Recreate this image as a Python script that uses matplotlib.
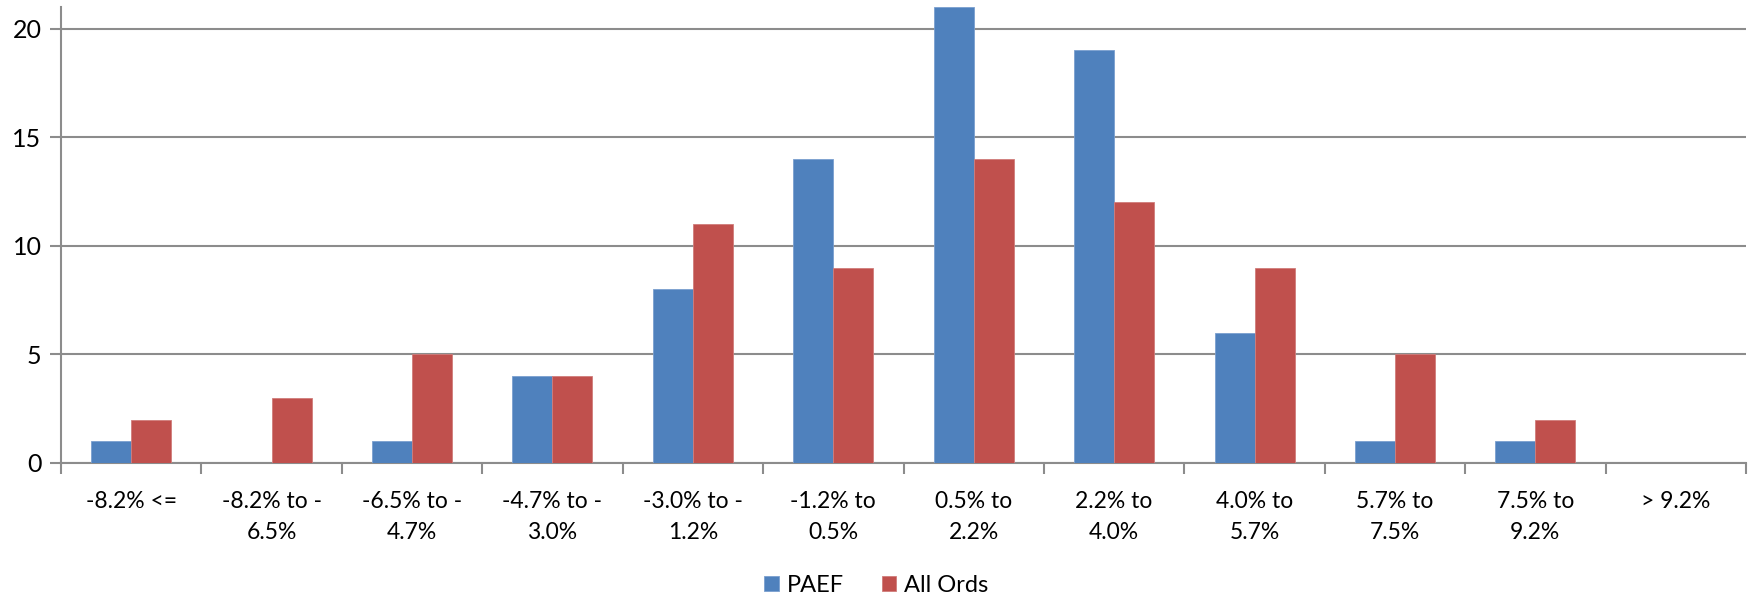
import numpy as np
import matplotlib.pyplot as plt

plt.rcParams['font.family'] = ['Lato', 'DejaVu Sans']

categories = ['-8.2% <=', '-8.2% to -\n6.5%', '-6.5% to -\n4.7%', '-4.7% to -\n3.0%',
              '-3.0% to -\n1.2%', '-1.2% to\n0.5%', '0.5% to\n2.2%', '2.2% to\n4.0%',
              '4.0% to\n5.7%', '5.7% to\n7.5%', '7.5% to\n9.2%', '> 9.2%']
paef = [1, 0, 1, 4, 8, 14, 21, 19, 6, 1, 1, 0]
all_ords = [2, 3, 5, 4, 11, 9, 14, 12, 9, 5, 2, 0]

grey = '#8c8c8c'
fig = plt.figure(figsize=(17.53, 6.02), dpi=100)
ax = fig.add_axes([61 / 1753, 1 - 463 / 602, 1685 / 1753, 456 / 602])

x = np.arange(len(categories))
w = 0.285
ax.bar(x - w / 2, paef, w, color='#4F81BD', label='PAEF', zorder=3,
       edgecolor='#7a9fcf', linewidth=0.6)
ax.bar(x + w / 2, all_ords, w, color='#C0504D', label='All Ords', zorder=3,
       edgecolor='#d07d7b', linewidth=0.6)

ax.set_xlim(-0.5, len(categories) - 0.5)
ax.set_ylim(0, 21)
ax.set_yticks([0, 5, 10, 15, 20])
ax.yaxis.grid(True, color=grey, linewidth=1.5, zorder=0)

ax.set_xticks(x)
ax.set_xticklabels(categories, fontsize=16.5, linespacing=1.6)
ax.set_xticks(np.arange(len(categories) + 1) - 0.5, minor=True)
ax.tick_params(axis='x', which='major', length=0, pad=20)
ax.tick_params(axis='x', which='minor', length=8, width=1.5, color=grey)
ax.tick_params(axis='y', length=8, width=1.5, color=grey, labelsize=18, pad=6)

for side in ['top', 'right']:
    ax.spines[side].set_visible(False)
for side in ['left', 'bottom']:
    ax.spines[side].set_color(grey)
    ax.spines[side].set_linewidth(1.5)

fig.legend(loc='center', bbox_to_anchor=(0.5, 1 - 585 / 602), ncol=2, frameon=False,
           fontsize=17, handlelength=0.6, handleheight=0.6, handletextpad=0.35,
           columnspacing=1.6)

fig.savefig('out.png', dpi=100)
